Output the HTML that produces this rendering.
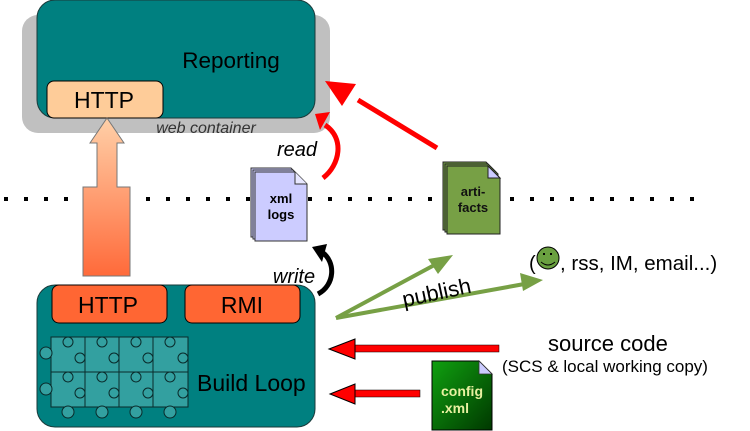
<!DOCTYPE html>
<html><head><meta charset="utf-8"><style>
html,body{margin:0;padding:0;background:#fff}
svg{display:block}
text{font-family:"Liberation Sans",sans-serif}
</style></head><body>
<svg width="750" height="431" viewBox="0 0 750 431" xmlns="http://www.w3.org/2000/svg">
<defs>
<linearGradient id="og" x1="0" y1="0" x2="0" y2="1">
<stop offset="0" stop-color="#ffd0a8"/><stop offset="1" stop-color="#ff6a3a"/></linearGradient>
<linearGradient id="cg" x1="0" y1="0" x2="1" y2="1">
<stop offset="0" stop-color="#10a010"/><stop offset="1" stop-color="#003800"/></linearGradient>
</defs>
<rect x="22" y="15" width="308" height="118" rx="16" fill="#c0c0c0"/>
<rect x="37" y="0" width="278" height="118" rx="18" fill="#008080" stroke="#1a3a3a" stroke-width="1"/>
<text x="231" y="68" font-size="22.5" text-anchor="middle" fill="#000">Reporting</text>
<rect x="47" y="81" width="116" height="37" rx="7" fill="#fecc99" stroke="#000" stroke-width="1"/>
<text x="104" y="108" font-size="23" text-anchor="middle">HTTP</text>
<text x="206" y="133" font-size="16" font-style="italic" text-anchor="middle" fill="#333">web container</text>
<path d="M107,118 L124,143 L117,143 L117,187 L130,187 L130,276 L83,276 L83,187 L97,187 L97,143 L90,143 Z" fill="url(#og)" stroke="#777" stroke-width="1"/>
<g fill="#000">
<rect x="4" y="197" width="4" height="4"/><rect x="24" y="197" width="4" height="4"/><rect x="44" y="197" width="4" height="4"/><rect x="64" y="197" width="4" height="4"/>
<rect x="146" y="197" width="4" height="4"/><rect x="166" y="197" width="4" height="4"/><rect x="186" y="197" width="4" height="4"/><rect x="206" y="197" width="4" height="4"/><rect x="226" y="197" width="4" height="4"/><rect x="246" y="197" width="4" height="4"/>
<rect x="308" y="197" width="4" height="4"/><rect x="328" y="197" width="4" height="4"/><rect x="348" y="197" width="4" height="4"/><rect x="368" y="197" width="4" height="4"/><rect x="388" y="197" width="4" height="4"/><rect x="408" y="197" width="4" height="4"/><rect x="428" y="197" width="4" height="4"/>
<rect x="510" y="197" width="4" height="4"/><rect x="530" y="197" width="4" height="4"/><rect x="550" y="197" width="4" height="4"/><rect x="570" y="197" width="4" height="4"/><rect x="590" y="197" width="4" height="4"/><rect x="610" y="197" width="4" height="4"/><rect x="630" y="197" width="4" height="4"/><rect x="650" y="197" width="4" height="4"/><rect x="670" y="197" width="4" height="4"/><rect x="690" y="197" width="4" height="4"/>
</g>
<g stroke="#333" stroke-width="1" fill="#ccccff">
<path d="M251,168 L291,168 L303,180 L303,237 L251,237 Z"/>
<path d="M253,170 L293,170 L305,182 L305,239 L253,239 Z"/>
<path d="M255,172 L295,172 L307,184 L307,241 L255,241 Z"/>
<path d="M295,172 L295,184 L307,184" fill="#e8e8ff"/>
</g>
<text x="281" y="203" font-size="13" font-weight="bold" text-anchor="middle">xml</text>
<text x="281" y="219" font-size="13" font-weight="bold" text-anchor="middle">logs</text>
<path d="M323,178 C340,165 345,138 325,125" fill="none" stroke="#f00" stroke-width="5"/>
<path d="M315,114 L330,112 L320,130 Z" fill="#f00"/>
<text x="297" y="156" font-size="20" font-style="italic" text-anchor="middle">read</text>
<line x1="437" y1="148" x2="358" y2="100" stroke="#f00" stroke-width="5"/>
<path d="M325,81 L356,84 L342,106 Z" fill="#f00"/>
<g stroke="#222" stroke-width="1" fill="#77a045">
<path d="M443,162 L486,162 L496,172 L496,230 L443,230 Z"/>
<path d="M445,164 L488,164 L498,174 L498,232 L445,232 Z"/>
<path d="M447,166 L488,166 L500,178 L500,234 L447,234 Z"/>
<path d="M488,166 L488,178 L500,178 Z" fill="#ccccff"/>
</g>
<text x="473" y="196" font-size="13" font-weight="bold" text-anchor="middle" fill="#111">arti-</text>
<text x="473" y="212" font-size="13" font-weight="bold" text-anchor="middle" fill="#111">facts</text>
<rect x="37" y="285" width="278" height="142" rx="18" fill="#008080" stroke="#1a3a3a" stroke-width="1"/>
<rect x="52" y="285" width="115" height="38" rx="7" fill="#ff6633" stroke="#000" stroke-width="1"/>
<text x="108" y="313" font-size="23" text-anchor="middle">HTTP</text>
<rect x="185" y="285" width="115" height="38" rx="7" fill="#ff6633" stroke="#000" stroke-width="1"/>
<text x="242" y="313" font-size="23" text-anchor="middle">RMI</text>
<g fill="#33a0a0" stroke="#0a2a2a" stroke-width="1">
<rect x="51" y="337" width="34" height="35"/><rect x="85" y="337" width="34" height="35"/><rect x="119" y="337" width="34" height="35"/><rect x="153" y="337" width="35" height="35"/>
<rect x="51" y="372" width="34" height="35"/><rect x="85" y="372" width="34" height="35"/><rect x="119" y="372" width="34" height="35"/><rect x="153" y="372" width="35" height="35"/>
<circle cx="46" cy="353" r="6"/><circle cx="46" cy="389" r="6"/>
<circle cx="68" cy="412" r="6"/><circle cx="102" cy="412" r="6"/><circle cx="136" cy="412" r="6"/><circle cx="170" cy="412" r="6"/>
<circle cx="68" cy="342" r="5"/><circle cx="102" cy="342" r="5"/><circle cx="136" cy="342" r="5"/><circle cx="170" cy="342" r="5"/>
<circle cx="80" cy="358" r="5"/><circle cx="114" cy="358" r="5"/><circle cx="148" cy="358" r="5"/><circle cx="183" cy="358" r="5"/>
<circle cx="68" cy="377" r="5"/><circle cx="102" cy="377" r="5"/><circle cx="136" cy="377" r="5"/><circle cx="170" cy="377" r="5"/>
<circle cx="80" cy="393" r="5"/><circle cx="114" cy="393" r="5"/><circle cx="148" cy="393" r="5"/><circle cx="183" cy="393" r="5"/>
</g>
<text x="197" y="391" font-size="23">Build  Loop</text>
<path d="M318,294 C335,285 336,262 322,252" fill="none" stroke="#000" stroke-width="5"/>
<path d="M312,247 L327,244 L322,262 Z" fill="#000"/>
<text x="294" y="283" font-size="20" font-style="italic" text-anchor="middle">write</text>
<g stroke="#77a045" stroke-width="4" fill="none">
<line x1="336" y1="318" x2="440" y2="262"/>
<line x1="336" y1="318" x2="530" y2="283"/>
</g>
<path d="M453,255 L428,259 L438,274 Z" fill="#77a045"/>
<path d="M543,280 L520,273 L523,291 Z" fill="#77a045"/>
<text x="0" y="0" font-size="22" transform="translate(404,307) rotate(-12)">publish</text>
<text x="529" y="270" font-size="20">(</text>
<circle cx="548" cy="258" r="11" fill="#6aa040" stroke="#000" stroke-width="1"/>
<rect x="543" y="253" width="2" height="2" fill="#000"/><rect x="550" y="253" width="2" height="2" fill="#000"/>
<path d="M541,262 Q548,268 555,262" fill="none" stroke="#000" stroke-width="1"/>
<text x="560" y="270" font-size="20.5">, rss, IM, email...)</text>
<text x="548" y="351" font-size="22">source code</text>
<text x="502" y="372" font-size="17">(SCS &amp; local working copy)</text>
<rect x="355" y="345" width="144" height="7" fill="#f00" stroke="#000" stroke-width="0.5"/>
<path d="M329,349 L355,339 L355,359 Z" fill="#f00" stroke="#000" stroke-width="1"/>
<rect x="355" y="390" width="65" height="7" fill="#f00" stroke="#000" stroke-width="0.5"/>
<path d="M330,394 L355,384 L355,404 Z" fill="#f00" stroke="#000" stroke-width="1"/>
<path d="M432,361 L479,361 L492,374 L492,430 L432,430 Z" fill="url(#cg)" stroke="#000" stroke-width="1"/>
<path d="M479,361 L479,374 L492,374 Z" fill="#ccccff" stroke="#333" stroke-width="0.8"/>
<text x="441" y="396" font-size="14" font-weight="bold" fill="#e8f0a0">config</text>
<text x="441" y="413" font-size="14" font-weight="bold" fill="#e8f0a0">.xml</text>
</svg>
</body></html>
